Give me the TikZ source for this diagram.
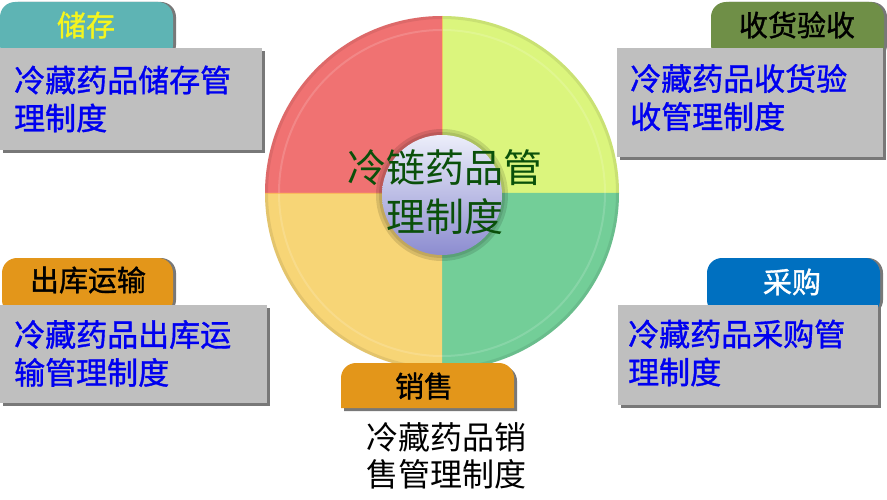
\documentclass[tikz,border=0pt]{standalone}
\usepackage{fontspec}
\usetikzlibrary{calc}
\newfontfamily\cjk{Noto Sans CJK SC}
\newfontfamily\cjkbold[FakeBold=1.2]{Noto Sans CJK SC}
\definecolor{tealtab}{RGB}{94,180,180}
\definecolor{greentab}{RGB}{111,143,71}
\definecolor{orangetab}{RGB}{227,150,26}
\definecolor{bluetab}{RGB}{0,112,192}
\definecolor{boxgray}{RGB}{191,191,191}
\definecolor{shadowgray}{RGB}{120,120,120}
\definecolor{bluetext}{RGB}{0,0,240}
\definecolor{qred}{RGB}{240,114,114}
\definecolor{qlime}{RGB}{219,245,125}
\definecolor{qyellow}{RGB}{247,213,118}
\definecolor{qgreen}{RGB}{115,206,152}
\definecolor{centertext}{RGB}{10,80,10}
\definecolor{tabyellow}{RGB}{245,245,30}
\tikzset{
  infobox/.style={fill=boxgray},
  boxshadow/.style={fill=shadowgray},
  bodytext/.style={anchor=west, inner sep=0pt, align=left, text=bluetext,
    font=\cjkbold\fontsize{31}{38}\selectfont},
  tabtext/.style={inner sep=0pt, font=\cjkbold\fontsize{29}{34}\selectfont},
}
\begin{document}
\begin{tikzpicture}[x=1pt,y=-1pt]
\useasboundingbox (0,0) rectangle (887,500);
\fill[white] (0,0) rectangle (887,500);

% ---- central wheel ----
\coordinate (C) at (442,193);
\fill[qred]    (C) -- ++(-177,0) arc[start angle=180,end angle=270,radius=177] -- cycle;
\fill[qlime]   (C) -- ++(0,-177) arc[start angle=270,end angle=360,radius=177] -- cycle;
\fill[qgreen]  (C) -- ++(177,0) arc[start angle=0,end angle=90,radius=177] -- cycle;
\fill[qyellow] (C) -- ++(0,177) arc[start angle=90,end angle=180,radius=177] -- cycle;
\draw[black, opacity=0.08, line width=3pt] (C) circle[radius=175.5];
\draw[white, opacity=0.15, line width=2pt] (C) circle[radius=163];
\draw[orange!70, opacity=0.6, line width=0.8pt] ($(C)+(-177,0)$) -- (C) -- ($(C)+(0,-177)$);
% sphere
\coordinate (S) at (442,195);
\fill[black, opacity=0.12] (S) circle[radius=66];
\fill[black, opacity=0.10] (S) circle[radius=63];
\shade[top color={rgb,255:red,236;green,238;blue,250},
       middle color={rgb,255:red,214;green,220;blue,246},
       bottom color={rgb,255:red,140;green,140;blue,208}] (S) circle[radius=60];
\node[inner sep=0pt, align=center, text=centertext,
      font=\cjk\fontsize{39}{49}\selectfont] (center) at (445,192.5)
      {冷链药品管\\理制度};

% ---- top left: 储存 ----
\fill[shadowgray, rounded corners=15pt] (3,2) -- (176,2) -- (176,60) -- (3,60) -- cycle;
\fill[tealtab, rounded corners=15pt] (0,2) -- (173,2) -- (173,60) -- (0,60) -- cycle;
\node[tabtext, text=tabyellow] (tabTL) at (86,25) {储存};
\fill[boxshadow] (3,51) rectangle (265,153);
\fill[infobox] (0,48) rectangle (262,150);
\node[bodytext] (textTL) at (14,99) {冷藏药品储存管\\理制度};

% ---- top right: 收货验收 ----
\fill[shadowgray, rounded corners=15pt] (714,2) -- (887,2) -- (887,60) -- (714,60) -- cycle;
\fill[greentab, rounded corners=15pt] (711,2) -- (884,2) -- (884,60) -- (711,60) -- cycle;
\node[tabtext, text=black] (tabTR) at (797,25) {收货验收};
\fill[boxshadow] (620,51) rectangle (886,160);
\fill[infobox] (617,48) rectangle (883,157);
\node[bodytext] (textTR) at (630,97.5) {冷藏药品收货验\\收管理制度};

% ---- bottom left: 出库运输 ----
\fill[shadowgray, rounded corners=15pt] (5,258) -- (176,258) -- (176,315) -- (5,315) -- cycle;
\fill[orangetab, rounded corners=15pt] (2,258) -- (173,258) -- (173,315) -- (2,315) -- cycle;
\node[tabtext, text=black] (tabBL) at (88,280) {出库运输};
\fill[boxshadow] (3,308) rectangle (270,406);
\fill[infobox] (0,305) rectangle (267,403);
\node[bodytext] (textBL) at (14,353.5) {冷藏药品出库运\\输管理制度};

% ---- bottom right: 采购 ----
\fill[shadowgray, rounded corners=15pt] (710,258) -- (883,258) -- (883,315) -- (710,315) -- cycle;
\fill[bluetab, rounded corners=15pt] (707,258) -- (880,258) -- (880,315) -- (707,315) -- cycle;
\node[tabtext, text=white] (tabBR) at (792,282) {采购};
\fill[boxshadow] (621,308) rectangle (881,408);
\fill[infobox] (618,305) rectangle (878,405);
\node[bodytext] (textBR) at (628,353) {冷藏药品采购管\\理制度};

% ---- bottom: 销售 ----
\fill[shadowgray] (344,366) [rounded corners=15pt] -- (517,366) [sharp corners] -- (517,411) -- (344,411) [rounded corners=15pt] -- cycle;
\fill[orangetab, rounded corners=15pt] (341,408) -- (341,363) -- (514,363) [sharp corners] -- (514,408) -- cycle;
\node[tabtext, text=black] (tabB) at (424,386) {销售};
\node[inner sep=0pt, align=center, text=black,
      font=\cjk\fontsize{32}{37}\selectfont] (textB) at (446,456)
      {冷藏药品销\\售管理制度};
\end{tikzpicture}
\end{document}
